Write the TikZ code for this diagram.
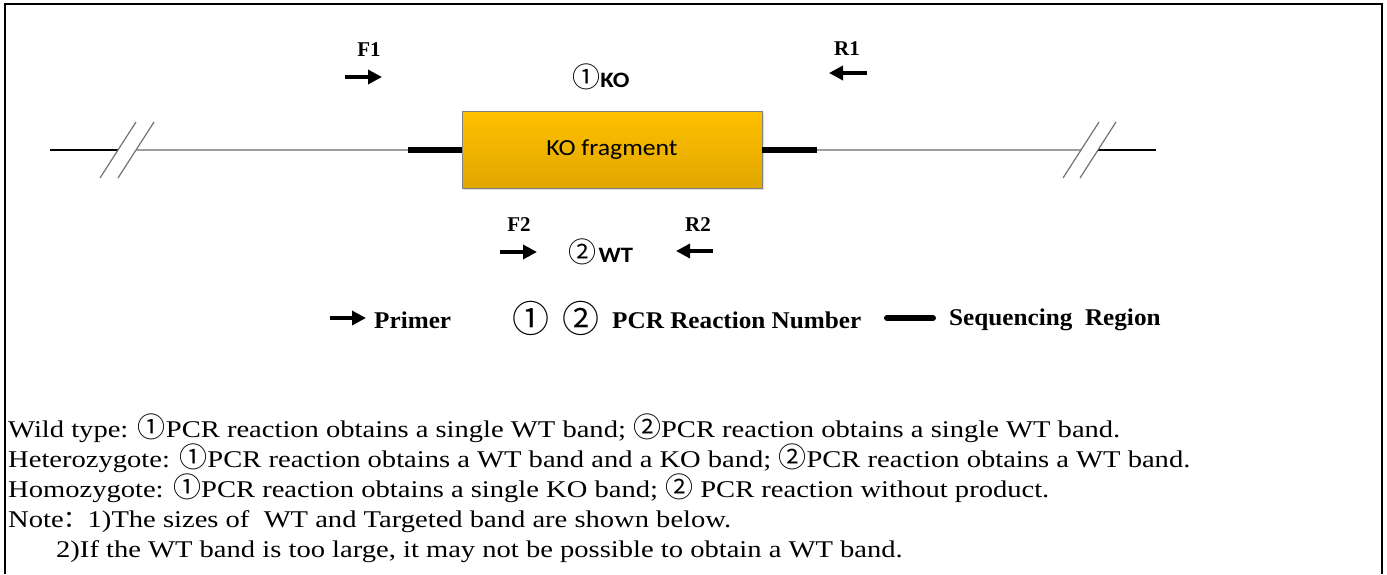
\documentclass[tikz,border=0pt]{standalone}
\usepackage{fontspec}
\setmainfont{Liberation Serif}
\newfontfamily\bodyfont[FakeStretch=1.19]{Liberation Serif}
\newfontfamily\legendfont[FakeStretch=1.05]{Liberation Serif}
\newfontfamily\calibrifont[FakeStretch=1.12]{Carlito}
\newfontfamily\cjkfont{Noto Sans CJK SC}
\newcommand{\cnum}[1]{{\cjkfont\fontsize{28}{30}\selectfont #1}}
\usetikzlibrary{positioning,arrows.meta,shadows}

\begin{document}
\begin{tikzpicture}[x=1pt,y=-1pt,
  primer/.style={line width=3.4pt,-{Triangle[length=14pt,width=14pt]}},
  seqline/.style={line width=6pt},
  dnaline/.style={line width=2.8pt,black!38},
  endline/.style={line width=1.4pt},
  breakmark/.style={line width=1.2pt,black!55},
  lbl/.style={inner sep=0pt,font=\bfseries\fontsize{21}{24}\selectfont},
  legend/.style={anchor=west,inner sep=0pt,font=\legendfont\bfseries\fontsize{24}{28}\selectfont},
  body/.style={anchor=base west,inner sep=0pt,font=\bodyfont\fontsize{24}{30}\selectfont}]
  \useasboundingbox (0,0) rectangle (1387,574);
  \draw[line width=1.5pt] (5,574) -- (5,4) -- (1382,4) -- (1382,574);

  \node[draw=black!50,line width=0.8pt,top color={rgb,255:red,255;green,192;blue,0},
    bottom color={rgb,255:red,224;green,166;blue,0},minimum width=300pt,minimum height=77pt,
    drop shadow={opacity=0.25,shadow xshift=1.5pt,shadow yshift=-1.5pt},
    font=\calibrifont\fontsize{23}{26}\selectfont] (ko) at (612,150) {KO fragment};
  \coordinate (seqL) at (408,150);
  \coordinate (seqR) at (817,150);
  \coordinate (endL) at (50,150);
  \coordinate (cutL) at (118,150);
  \coordinate (brkL) at (136,150);
  \coordinate (brkR) at (1081,150);
  \coordinate (cutR) at (1098,150);
  \coordinate (endR) at (1156,150);
  \draw[endline] (endL) -- (cutL);
  \draw[dnaline] (brkL) -- (seqL);
  \draw[dnaline] (seqR) -- (brkR);
  \draw[seqline] (seqL) -- (ko.west);
  \draw[seqline] (ko.east) -- (seqR);
  \draw[endline] (cutR) -- (endR);
  \draw[breakmark] (100,178) -- (136,122);
  \draw[breakmark] (118,178) -- (154,122);
  \draw[breakmark] (1063,178) -- (1099,122);
  \draw[breakmark] (1080,178) -- (1116,122);

  \node[lbl] (F1) at (369,50) {F1};
  \coordinate (F1a) at (345,77);
  \coordinate (F1b) at (382,77);
  \draw[primer] (F1a) -- (F1b);
  \node[lbl] (R1) at (847,49) {R1};
  \coordinate (R1a) at (867,73);
  \coordinate (R1b) at (829,73);
  \draw[primer] (R1a) -- (R1b);
  \node[inner sep=0pt] (ko1) at (601,77) {{\cjkfont\fontsize{28}{30}\selectfont ①}{\calibrifont\bfseries\fontsize{22}{26}\selectfont KO}};

  \node[lbl] (F2) at (519,225) {F2};
  \coordinate (F2a) at (500,252);
  \coordinate (F2b) at (537,252);
  \draw[primer] (F2a) -- (F2b);
  \node[lbl] (R2) at (698,225) {R2};
  \coordinate (R2a) at (713,251);
  \coordinate (R2b) at (676,251);
  \draw[primer] (R2a) -- (R2b);
  \node[inner sep=0pt] (wt2) at (601,252) {{\cjkfont\fontsize{28}{30}\selectfont ②}\,{\calibrifont\bfseries\fontsize{22}{26}\selectfont WT}};

  \coordinate (legA) at (330,318);
  \coordinate (legB) at (366,318);
  \draw[primer] (legA) -- (legB);
  \node[legend] (primer) at (374,320) {Primer};
  \node[inner sep=0pt] (n1) at (531,318) {\cjkfont\fontsize{37}{40}\selectfont ①};
  \node[inner sep=0pt] (n2) at (581,318) {\cjkfont\fontsize{37}{40}\selectfont ②};
  \node[legend] (pcr) at (612,320) {PCR Reaction Number};
  \coordinate (seqA) at (887,318);
  \coordinate (seqB) at (933,318);
  \draw[seqline,line cap=round] (seqA) -- (seqB);
  \node[legend] (seqtxt) at (949,320) {Sequencing\ \ Region};

  \node[body] (wild) at (8,437) {Wild type: \cnum{①}PCR reaction obtains a single WT band; \cnum{②}PCR reaction obtains a single WT band.};
  \node[body] (het) at (8,467) {Heterozygote: \cnum{①}PCR reaction obtains a WT band and a KO band; \cnum{②}PCR reaction obtains a WT band.};
  \node[body] (hom) at (8,497) {Homozygote: \cnum{①}PCR reaction obtains a single KO band; \cnum{②} PCR reaction without product.};
  \node[body] (note) at (8,527) {Note{\cjkfont ：}1)The sizes of\ \ WT and Targeted band are shown below.};
  \node[body] (note2) at (56,557) {2)If the WT band is too large, it may not be possible to obtain a WT band.};
\end{tikzpicture}
\end{document}
